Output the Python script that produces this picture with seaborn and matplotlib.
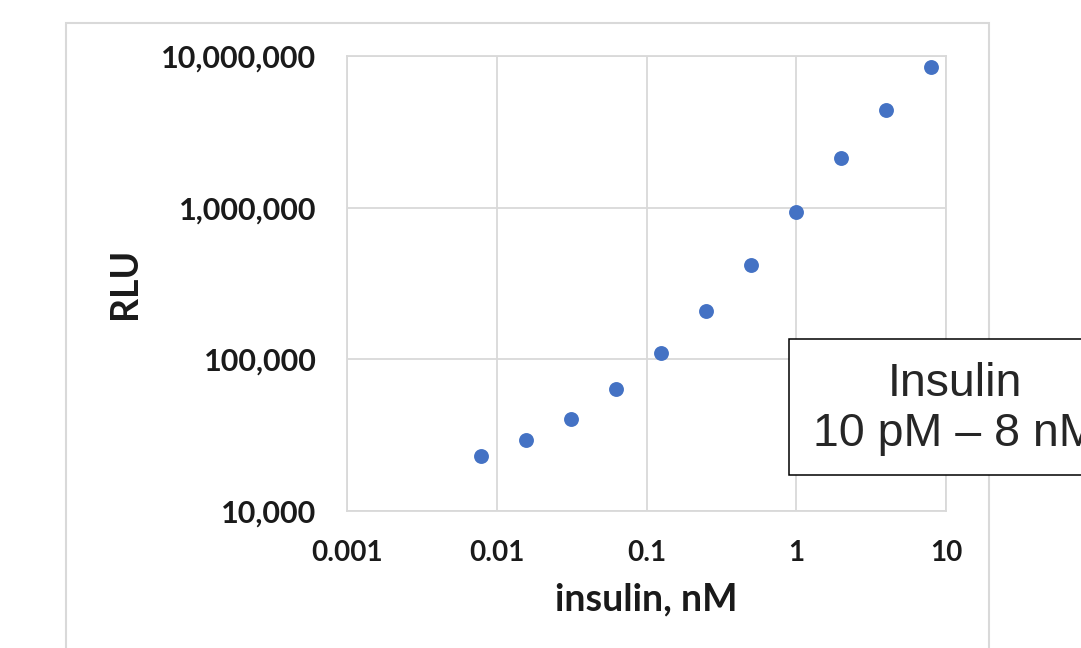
import matplotlib
matplotlib.use("Agg")
import matplotlib.pyplot as plt
import matplotlib.ticker as mticker
from matplotlib.patches import Rectangle
import seaborn as sns
import pandas as pd

# insulin dose series (2-fold dilutions) and luminescence readout
insulin_nM = [0.0078125, 0.015625, 0.03125, 0.0625, 0.125, 0.25, 0.5, 1, 2, 4, 8]
rlu = [23000, 29400, 40400, 63700, 110000, 208000, 419000, 935000, 2120000, 4400000, 8450000]

x_ticks = [0.001, 0.01, 0.1, 1, 10]
x_tick_labels = ["0.001", "0.01", "0.1", "1", "10"]
y_ticks = [10000, 100000, 1000000, 10000000]

df = pd.DataFrame({"insulin": insulin_nM, "RLU": rlu})

sns.set_style("whitegrid")
plt.rcParams["font.family"] = ["Lato", "DejaVu Sans"]

fig = plt.figure(figsize=(10.81, 6.48), dpi=100)
ax = fig.add_axes([347 / 1081, 1 - 511 / 648, (946 - 347) / 1081, (511 - 56) / 648])

sns.scatterplot(data=df, x="insulin", y="RLU", ax=ax, color="#4472C4",
                s=115, linewidth=0, zorder=3)

ax.set_xscale("log")
ax.set_yscale("log")
ax.set_xlim(0.001, 10)
ax.set_ylim(10000, 10000000)
ax.set_xticks(x_ticks)
ax.set_xticklabels(x_tick_labels)
ax.set_yticks(y_ticks)
ax.yaxis.set_major_formatter(mticker.FuncFormatter(lambda v, p: f"{int(round(v)):,}"))
ax.xaxis.set_minor_locator(mticker.NullLocator())
ax.yaxis.set_minor_locator(mticker.NullLocator())

ax.grid(True, color="#d9d9d9", linewidth=1.3)
for sp in ax.spines.values():
    sp.set_color("#d9d9d9")
    sp.set_linewidth(1.3)

ax.tick_params(axis="both", length=0, labelcolor="#1a1a1a")
ax.tick_params(axis="y", pad=22, labelsize=22)
ax.tick_params(axis="x", pad=21, labelsize=20)
for lab in ax.get_xticklabels() + ax.get_yticklabels():
    lab.set_fontweight("bold")

ax.set_xlabel("insulin, nM", fontsize=27, fontweight="bold", color="#1a1a1a")
ax.set_ylabel("RLU", fontsize=27, fontweight="bold", color="#1a1a1a")
ax.xaxis.set_label_coords(0.5, -0.157)
ax.yaxis.set_label_coords(-0.343, 0.5)

# outer chart frame
fig.add_artist(Rectangle((66 / 1081, -0.1), (989 - 66) / 1081, 1.1 - 23 / 648,
                         transform=fig.transFigure, fill=False,
                         edgecolor="#d9d9d9", linewidth=1.5, clip_on=False))

# annotation box (clipped by the right edge, as in the original slide)
fig.add_artist(Rectangle((789 / 1081, 1 - 475 / 648), 0.4, (475 - 339) / 648,
                         transform=fig.transFigure, facecolor="white",
                         edgecolor="black", linewidth=1.1, zorder=5))
fig.text(955 / 1081, 1 - 409 / 648, "Insulin\n10 pM \u2013 8 nM", ha="center",
         va="center", fontsize=33.5, family=["Liberation Sans", "DejaVu Sans"],
         linespacing=1.2, zorder=6)

fig.savefig("out.png", dpi=100)
